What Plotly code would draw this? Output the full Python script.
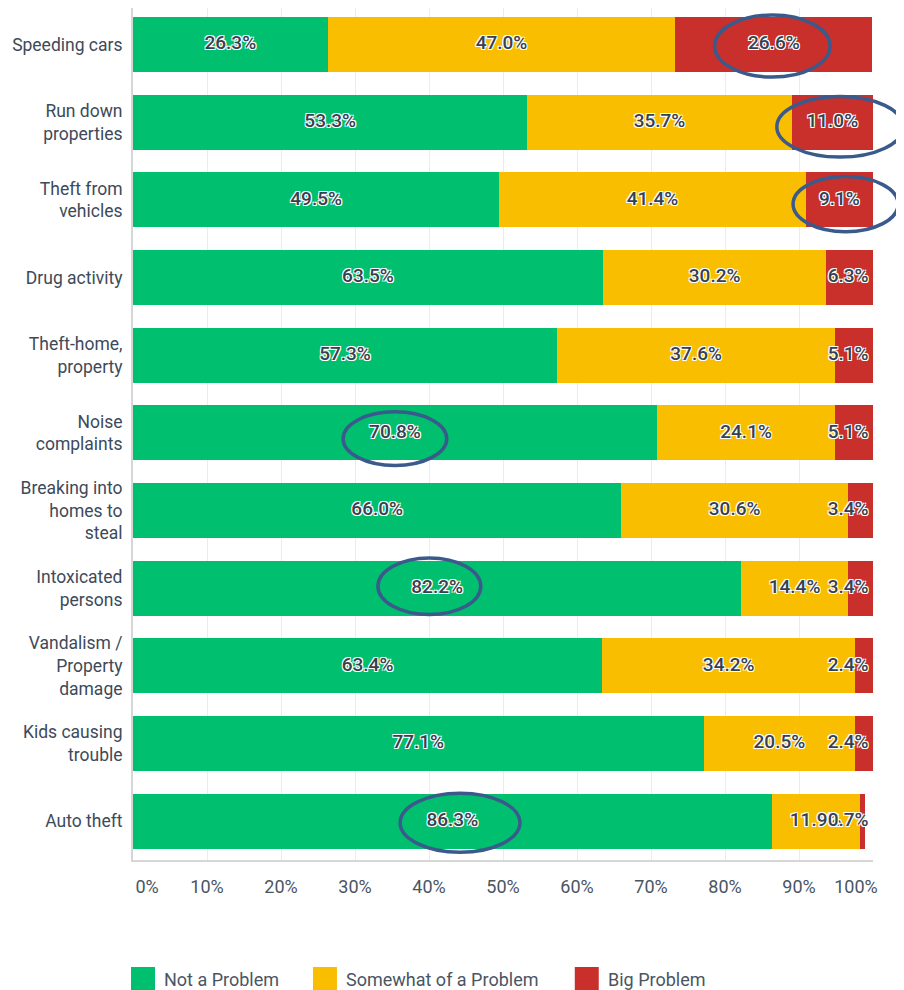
import plotly.graph_objects as go

# categories, top to bottom
categories = [
    "Speeding cars",
    "Run down<br>properties",
    "Theft from<br>vehicles",
    "Drug activity",
    "Theft-home,<br>property",
    "Noise<br>complaints",
    "Breaking into<br>homes to<br>steal",
    "Intoxicated<br>persons",
    "Vandalism /<br>Property<br>damage",
    "Kids causing<br>trouble",
    "Auto theft",
]
not_a_problem = [26.3, 53.3, 49.5, 63.5, 57.3, 70.8, 66.0, 82.2, 63.4, 77.1, 86.3]
somewhat_problem = [47.0, 35.7, 41.4, 30.2, 37.6, 24.1, 30.6, 14.4, 34.2, 20.5, 11.9]
big_problem = [26.6, 11.0, 9.1, 6.3, 5.1, 5.1, 3.4, 3.4, 2.4, 2.4, 0.7]

series_names = ["Not a Problem", "Somewhat of a Problem", "Big Problem"]
series_colors = ["#00bf6f", "#f9be00", "#c9302c"]

tick_values = [0, 10, 20, 30, 40, 50, 60, 70, 80, 90, 100]
tick_labels = ["0%", "10%", "20%", "30%", "40%", "50%", "60%", "70%", "80%", "90%", "100%"]

# (series index, category index) of circled labels
circled = [(2, 0), (2, 1), (2, 2), (0, 5), (0, 7), (0, 10)]

FONT = "Roboto"
TEXT_COL = "#36414f"
PX_PER_PCT = 7.4
Y_TOP = -0.47  # a little headroom above the first bar
Y_BOTTOM = 10.5

fig = go.Figure()

all_series = [not_a_problem, somewhat_problem, big_problem]
for name, vals, col in zip(series_names, all_series, series_colors):
    fig.add_trace(go.Bar(
        y=categories, x=vals, name=name, orientation="h",
        marker=dict(color=col, line=dict(width=0)),
        width=0.71, showlegend=False, hoverinfo="x+name",
    ))

# value labels, centred in segment, pushed left when they would overflow the bar end
left = [0.0] * len(categories)
for s, vals in enumerate(all_series):
    xs_c, ys_c, tx_c = [], [], []
    xs_r, ys_r, tx_r = [], [], []
    for i, v in enumerate(vals):
        mid = left[i] + v / 2
        label = f"{v:.1f}%"
        half = len(label) * 5.5 / PX_PER_PCT
        if mid + half > 99.4:
            xs_r.append(99.4); ys_r.append(categories[i]); tx_r.append(label)
        else:
            xs_c.append(mid); ys_c.append(categories[i]); tx_c.append(label)
        left[i] += v
    for xs, ys, tx, pos in [(xs_c, ys_c, tx_c, "middle center"), (xs_r, ys_r, tx_r, "middle left")]:
        if not xs:
            continue
        fig.add_trace(go.Scatter(
            x=xs, y=ys, text=tx, mode="text", textposition=pos,
            textfont=dict(family=FONT, size=19, color=TEXT_COL, weight=500,
                          shadow="1px 1px 0 #fff, -1px -1px 0 #fff, 1px -1px 0 #fff, -1px 1px 0 #fff"),
            showlegend=False, hoverinfo="skip", cliponaxis=False,
        ))

# x tick labels on an overlaid axis so the end labels stay inside the plot
label_pos = list(tick_values)
label_pos[0] = 1.9
label_pos[-1] = 97.7
fig.add_trace(go.Scatter(x=[0, 100], y=[categories[0], categories[0]], xaxis="x2",
                         mode="markers", marker=dict(opacity=0), showlegend=False, hoverinfo="skip"))


def ypaper(idx):
    return (Y_BOTTOM - idx) / (Y_BOTTOM - Y_TOP)


ellipse_boxes = {
    (2, 0): (78.6, 94.2, -0.38, 0.42),
    (2, 1): (87.0, 104.1, -0.33, 0.45),
    (2, 2): (89.2, 103.4, -0.30, 0.41),
    (0, 5): (28.4, 42.4, -0.27, 0.42),
    (0, 7): (33.1, 47.0, -0.39, 0.34),
    (0, 10): (36.1, 52.3, -0.36, 0.40),
}
shapes = []
for key in circled:
    x0, x1, d0, d1 = ellipse_boxes[key]
    idx = key[1]
    shapes.append(dict(type="circle", xref="paper", yref="paper",
                       x0=x0 / 100, x1=x1 / 100, y0=ypaper(idx + d1), y1=ypaper(idx + d0),
                       line=dict(color="#3b5a8c", width=3.5), layer="above"))

# legend swatches
annotations = []
legend_x = [-0.0027, 0.2432, 0.597]
for name, col, lx in zip(series_names, series_colors, legend_x):
    shapes.append(dict(type="rect", xref="paper", yref="paper",
                       x0=lx, x1=lx + 0.0324, y0=-0.1526, y1=-0.1256,
                       fillcolor=col, line=dict(width=0)))
    annotations.append(dict(xref="paper", yref="paper", x=lx + 0.042, y=-0.1397,
                            text=name, showarrow=False, xanchor="left", yanchor="middle",
                            font=dict(family=FONT, size=18, color="#4a5563")))

fig.update_layout(
    width=896, height=982,
    margin=dict(l=125, r=31, t=0, b=130),
    paper_bgcolor="white", plot_bgcolor="white",
    barmode="stack", bargap=0.29,
    showlegend=False,
    shapes=shapes, annotations=annotations,
    xaxis=dict(range=[0, 100], tickvals=tick_values, showticklabels=False,
               showgrid=True, gridcolor="#ececec", gridwidth=1, zeroline=False,
               showline=True, linecolor="#d6d6d6", linewidth=2, mirror=False, fixedrange=True),
    xaxis2=dict(range=[0, 100], overlaying="x", side="bottom", anchor="y",
                tickvals=label_pos, ticktext=tick_labels, showgrid=False, zeroline=False,
                ticks="outside", ticklen=10, tickcolor="rgba(0,0,0,0)",
                tickfont=dict(family=FONT, size=18, color="#4a5563")),
    yaxis=dict(range=[Y_BOTTOM, Y_TOP], categoryorder="array", categoryarray=categories,
               showgrid=False, zeroline=False, showline=True, linecolor="#d6d6d6", linewidth=2,
               ticks="", ticklabelstandoff=5,
               tickfont=dict(family=FONT, size=17.5, color="#3d4a5a")),
)

fig.write_html("out.html")
